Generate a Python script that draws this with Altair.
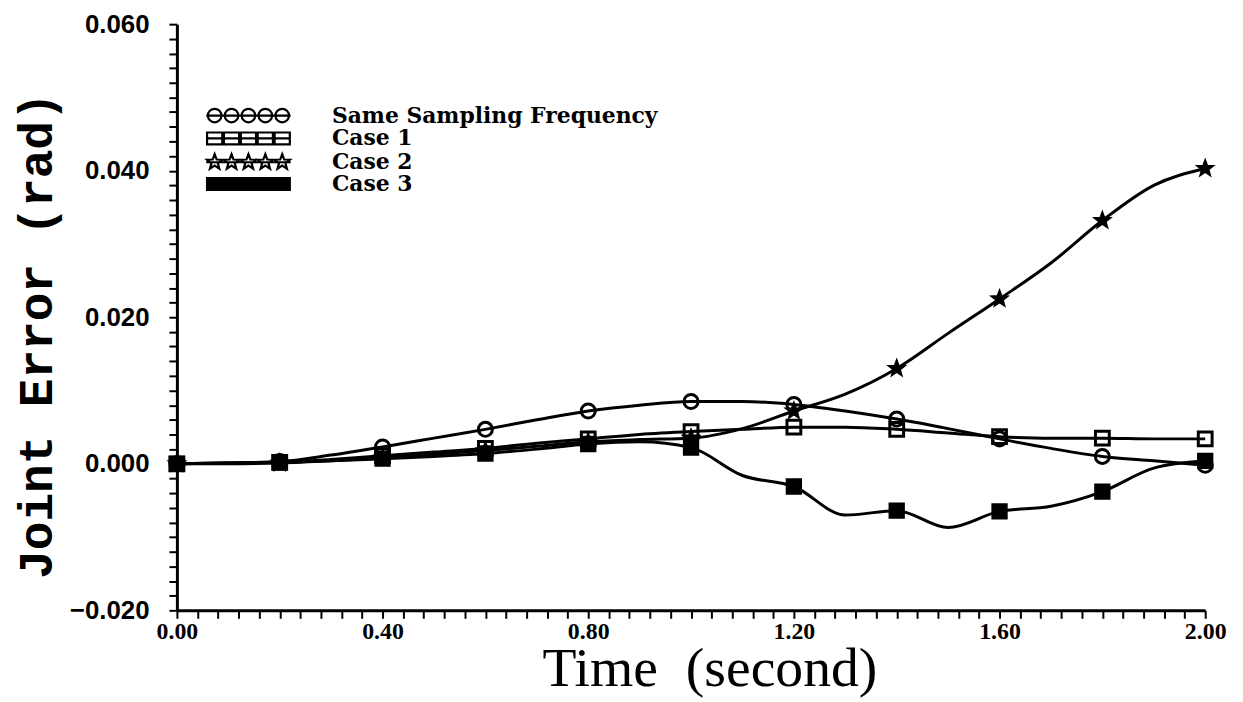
import math
import altair as alt
import pandas as pd

# ---- data ----
series_names = ["Same Sampling Frequency", "Case 1", "Case 2", "Case 3"]
time_s = [0.0, 0.1, 0.2, 0.3, 0.4, 0.5, 0.6, 0.7, 0.8, 0.9, 1.0,
          1.1, 1.2, 1.3, 1.4, 1.5, 1.6, 1.7, 1.8, 1.9, 2.0]
same_freq = [0.0, 0.0001, 0.0003, 0.0012, 0.0023, 0.0035, 0.0047, 0.0060, 0.0072, 0.0080, 0.0085,
             0.0085, 0.0081, 0.0072, 0.0061, 0.0048, 0.0034, 0.0021, 0.0010, 0.0004, -0.0002]
case1 = [0.0, 0.0001, 0.0002, 0.0006, 0.0011, 0.0016, 0.0021, 0.0028, 0.0034, 0.0040, 0.0044,
         0.0047, 0.0050, 0.0050, 0.0047, 0.0042, 0.0037, 0.0035, 0.0035, 0.0034, 0.0034]
case2 = [0.0, 0.0, 0.0001, 0.0004, 0.0008, 0.0013, 0.0018, 0.0024, 0.0030, 0.0033, 0.0035,
         0.0048, 0.0072, 0.0095, 0.0130, 0.0178, 0.0225, 0.0274, 0.0332, 0.0380, 0.0403]
case3 = [0.0, 0.0001, 0.0002, 0.0004, 0.0007, 0.0010, 0.0014, 0.0020, 0.0027, 0.0030, 0.0022,
         -0.0016, -0.0031, -0.0070, -0.0064, -0.0087, -0.0065, -0.0058, -0.0038, -0.0006, 0.0004]
marker_every = 2  # markers drawn at 0.2 s intervals

x_ticks = [round(i * 0.04, 2) for i in range(51)]
y_ticks = [round(-0.02 + i * 0.002, 3) for i in range(41)]

# ---- tables ----
rows = []
for name, vals in zip(series_names, [same_freq, case1, case2, case3]):
    for i, (t, v) in enumerate(zip(time_s, vals)):
        rows.append({"t": t, "v": v, "series": name, "marker": i % marker_every == 0})
df = pd.DataFrame(rows)
pts = df[df["marker"]].drop(columns=["marker"])
df = df.drop(columns=["marker"])
# legend-only rows: placed outside the x domain and clipped, so only the legend shows them
legend_df = pd.DataFrame({"label": series_names, "t": [-1.0] * 4, "v": [0.0] * 4})

# ---- symbol paths (legend paths drawn at scale K so a small symbolSize keeps rows tight) ----
K = 1.7
def f(v):
    return f"{v * K:.3f}"
def circ(cx, r=0.8):
    return f"M{f(cx - r)},0A{f(r)},{f(r)} 0 1,0 {f(cx + r)},0A{f(r)},{f(r)} 0 1,0 {f(cx - r)},0Z"
def rect(cx, w=0.9, h=0.7):
    return f"M{f(cx - w)},{f(-h)}H{f(cx + w)}V{f(h)}H{f(cx - w)}Z"
def solid_rect(cx, w=0.9, h=0.7):
    hatch = "".join(f"M{f(cx - w)},{f(y)}H{f(cx + w)}" for y in [-0.46, -0.23, 0.0, 0.23, 0.46])
    return rect(cx, w, h) + hatch
def star(cx, ro=0.95, ri=0.4, k=K):
    p = []
    for j in range(10):
        r = ro if j % 2 == 0 else ri
        a = -math.pi / 2 + j * math.pi / 5
        p.append(f"{(cx + r * math.cos(a)) * k:.3f},{r * math.sin(a) * k:.3f}")
    return "M" + "L".join(p) + "Z"

star_path = star(0, 1.0, 0.42, 1.0)
centers = [-4, -2, 0, 2, 4]
line_path = f"M{f(-5)},0L{f(5)},0"
legend_paths = [
    line_path + "".join(circ(c) for c in centers),
    line_path + "".join(rect(c) for c in centers),
    line_path + "".join(star(c) for c in centers),
    line_path + "".join(solid_rect(c) for c in centers),
]

x_enc = alt.X("t:Q", scale=alt.Scale(domain=[0, 2], nice=False),
              axis=alt.Axis(values=x_ticks,
                            labelExpr="abs(datum.value/0.4 - round(datum.value/0.4)) < 0.01 ? format(datum.value, '.2f') : ''",
                            title="Time\u00a0\u00a0(second)", grid=False, tickSize=8, tickWidth=2,
                            domainWidth=3, domainColor="black", tickColor="black",
                            labelFont="Liberation Serif", labelFontWeight="bold", labelFontSize=24,
                            labelColor="black", labelPadding=1, labelFlush=False, labelOverlap=False,
                            titleFont="Liberation Serif", titleFontSize=56, titleFontWeight="normal",
                            titleColor="black", titleX=536, titleY=76, titleAlign="center",
                            titleBaseline="alphabetic"))
y_enc = alt.Y("v:Q", scale=alt.Scale(domain=[-0.02, 0.06], nice=False, zero=False),
              axis=alt.Axis(values=y_ticks,
                            labelExpr="abs(datum.value/0.02 - round(datum.value/0.02)) < 0.01 ? format(datum.value, '.3f') : ''",
                            title="Joint Error (rad)", grid=False, tickSize=8, tickWidth=2,
                            domainWidth=3, domainColor="black", tickColor="black",
                            labelFont="Liberation Sans", labelFontWeight="bold", labelFontSize=26,
                            labelColor="black", labelPadding=20, labelFlush=False, labelOverlap=False,
                            titleFont="Liberation Mono", titleFontSize=48, titleFontWeight="bold",
                            titleColor="black", titleX=-140, titleY=313, titleAngle=-90,
                            titleAlign="center", titleBaseline="middle"))

lines = alt.Chart(df).mark_line(color="black", strokeWidth=3, interpolate="monotone").encode(
    x=x_enc, y=y_enc, detail="series:N")

points = alt.Chart(pts).mark_point(filled=True, stroke="black", strokeWidth=3, opacity=1).encode(
    x=x_enc, y=y_enc,
    shape=alt.Shape("series:N", scale=alt.Scale(domain=series_names,
                                                 range=["circle", "square", star_path, "square"]), legend=None),
    fill=alt.Fill("series:N", scale=alt.Scale(domain=series_names,
                                               range=["transparent", "transparent", "black", "black"]), legend=None),
    size=alt.Size("series:N", scale=alt.Scale(domain=series_names, range=[200, 180, 240, 180]), legend=None),
)

leg = alt.Legend(orient="none", legendX=61, legendY=81, title=None, padding=0,
                 labelFont="DejaVu Serif", labelFontWeight="bold", labelFontSize=22, labelColor="black",
                 labelOffset=73, labelLimit=800, rowPadding=0, symbolSize=100,
                 symbolStrokeColor="black", symbolStrokeWidth=2.2, symbolFillColor="transparent",
                 symbolOpacity=1)
legend_layer = alt.Chart(legend_df).mark_point(filled=False, stroke="black", strokeWidth=2.2,
                                               size=100, clip=True).encode(
    x=x_enc, y=y_enc,
    shape=alt.Shape("label:N", scale=alt.Scale(domain=series_names, range=legend_paths), legend=leg),
)

chart = alt.layer(points, lines, legend_layer).resolve_scale(
    shape="independent"
).properties(
    width=1035, height=590,
    padding={"left": 170, "top": 14, "right": 30, "bottom": 88},
    autosize=alt.AutoSizeParams(type="none"),
    background="white",
).configure_view(strokeWidth=0)

chart.save("out.html", embed_options={"renderer": "svg", "actions": False})
